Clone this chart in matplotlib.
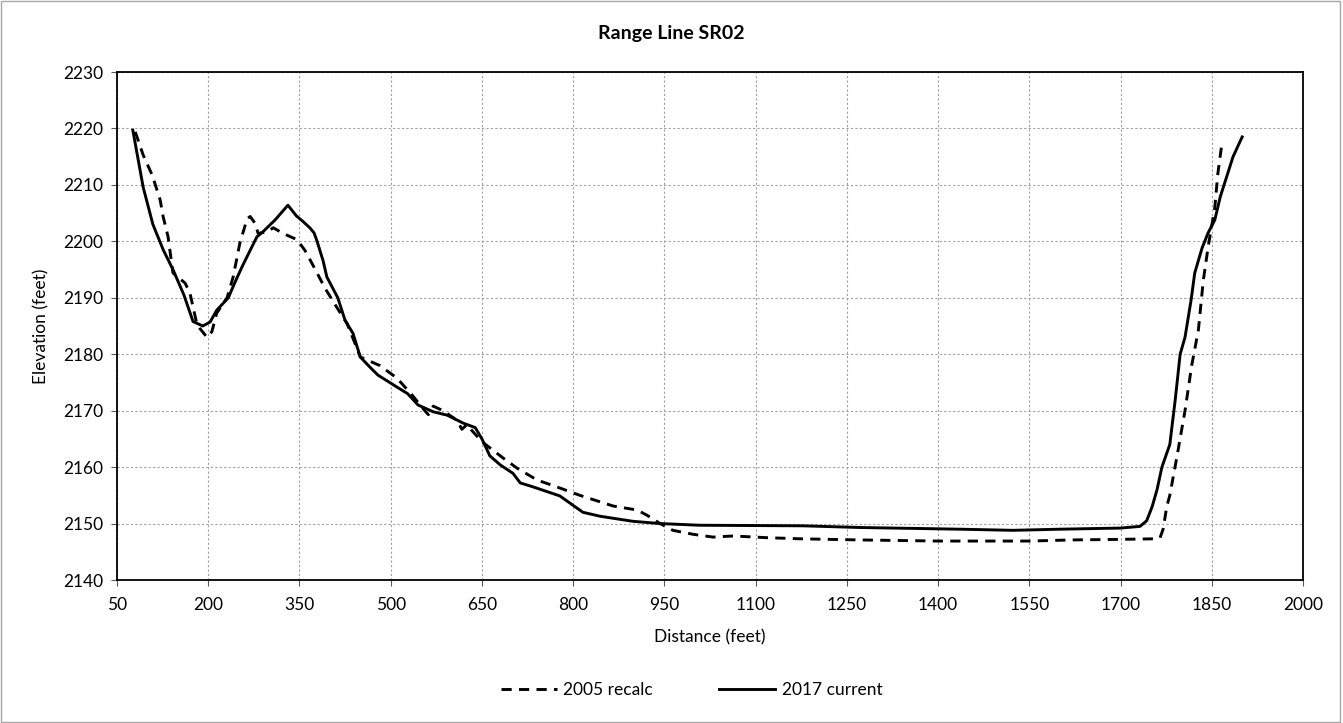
import matplotlib
matplotlib.use("Agg")
import matplotlib.pyplot as plt
from matplotlib.patches import Rectangle

# --- data ---
x_2005 = [80, 93, 108, 121, 126, 134, 142, 162, 170, 181, 186, 198, 206, 214, 231,
          241, 252, 264, 269, 277, 282, 297, 307, 323, 346, 359, 376, 392, 412, 428,
          441, 450, 482, 510, 535, 556, 562, 570, 586, 609, 617, 625, 650, 685, 708,
          741, 773, 811, 866, 905, 921, 943, 964, 997, 1030, 1063, 1118, 1173, 1270,
          1400, 1550, 1620, 1700, 1757, 1765, 1770, 1776, 1781, 1793, 1806, 1817,
          1828, 1836, 1844, 1855, 1860, 1867]
y_2005 = [2219.4, 2215.3, 2211.7, 2207.3, 2204.3, 2200.8, 2194.4, 2192.6, 2190.8,
          2185.5, 2184.6, 2183.0, 2184.0, 2187.3, 2190.0, 2193.7, 2199.7, 2204.0,
          2204.4, 2203.2, 2201.4, 2201.7, 2202.4, 2201.4, 2200.3, 2198.4, 2195.0,
          2191.7, 2188.2, 2185.5, 2182.0, 2179.5, 2178.0, 2175.8, 2172.8, 2170.0,
          2169.3, 2170.8, 2170.0, 2168.3, 2166.7, 2167.5, 2164.5, 2161.6, 2159.8,
          2157.7, 2156.5, 2155.0, 2153.1, 2152.4, 2151.5, 2150.0, 2148.8, 2148.1,
          2147.6, 2147.8, 2147.5, 2147.3, 2147.1, 2146.9, 2146.9, 2147.1, 2147.2,
          2147.3, 2147.5, 2149.0, 2153.0, 2155.0, 2162.0, 2170.0, 2178.0, 2184.3,
          2193.0, 2199.0, 2206.0, 2212.0, 2217.6]

x_2017 = [76, 93, 109, 126, 142, 160, 175, 191, 203, 214, 233, 245, 257, 268, 280,
          290, 310, 331, 345, 356, 367, 374, 379, 389, 395, 413, 425, 438, 450, 466,
          479, 510, 528, 545, 570, 593, 619, 639, 650, 663, 680, 701, 713, 734, 778,
          816, 844, 898, 943, 1008, 1178, 1272, 1436, 1523, 1600, 1700, 1732, 1743,
          1752, 1760, 1768, 1781, 1790, 1798, 1806, 1816, 1822, 1834, 1844, 1855,
          1864, 1885, 1900]
y_2017 = [2219.7, 2209.6, 2203.0, 2198.5, 2195.0, 2190.5, 2185.8, 2185.0, 2185.7,
          2187.8, 2190.0, 2193.0, 2195.8, 2198.2, 2200.8, 2201.7, 2203.8, 2206.4,
          2204.5, 2203.5, 2202.4, 2201.5, 2200.0, 2196.5, 2193.7, 2190.0, 2186.0,
          2183.7, 2179.5, 2177.7, 2176.3, 2174.2, 2173.0, 2171.0, 2169.8, 2169.2,
          2167.8, 2167.0, 2165.0, 2162.0, 2160.4, 2158.9, 2157.2, 2156.5, 2154.9,
          2152.0, 2151.3, 2150.4, 2150.0, 2149.7, 2149.6, 2149.3, 2149.0, 2148.8,
          2149.0, 2149.2, 2149.5, 2150.5, 2153.0, 2156.0, 2160.0, 2164.0, 2172.0,
          2180.0, 2183.0, 2189.6, 2194.4, 2198.8, 2201.5, 2203.8, 2207.9, 2215.0,
          2218.5]

x_ticks = list(range(50, 2001, 150))
y_ticks = list(range(2140, 2231, 10))

plt.rcParams['font.family'] = ['Lato', 'DejaVu Sans']

W, H = 1343, 723
fig = plt.figure(figsize=(W / 100, H / 100), dpi=100)
ax = fig.add_axes([117 / W, 1 - 580 / H, 1186 / W, 508 / H])

ax.plot(x_2005, y_2005, color='black', linewidth=2.1, dashes=(3.5, 2.5),
        label='2005 recalc')
ax.plot(x_2017, y_2017, color='black', linewidth=2.1, label='2017 current')

ax.set_xlim(50, 2000)
ax.set_ylim(2140, 2230)
ax.set_xticks(x_ticks)
ax.set_yticks(y_ticks)
ax.tick_params(labelsize=12.5, length=4, direction='out', color='#595959')
ax.tick_params(axis='x', pad=8)
ax.tick_params(axis='y', pad=6)
ax.grid(True, color='#a0a0a0', linestyle=(0, (2, 2)), linewidth=0.8)
for s in ax.spines.values():
    s.set_color('black')
    s.set_linewidth(1.3)

ax.set_xlabel('Distance (feet)', fontsize=12.5, labelpad=12)
ax.set_ylabel('Elevation (feet)', fontsize=12.5, labelpad=10)
fig.text(0.5, 1 - 33 / H, 'Range Line SR02', ha='center', va='center',
         fontsize=14, fontweight='bold')

fig.legend(loc='center', bbox_to_anchor=(0.515, 1 - 690 / H), ncol=2,
           frameon=False, fontsize=12.5, handlelength=3.2, handletextpad=0.4,
           columnspacing=3.8)

fig.patches.append(Rectangle((0.001, 0.001), 0.997, 0.997, transform=fig.transFigure,
                             fill=False, edgecolor='#a6a6a6', linewidth=1))

fig.savefig('out.png', dpi=100)
